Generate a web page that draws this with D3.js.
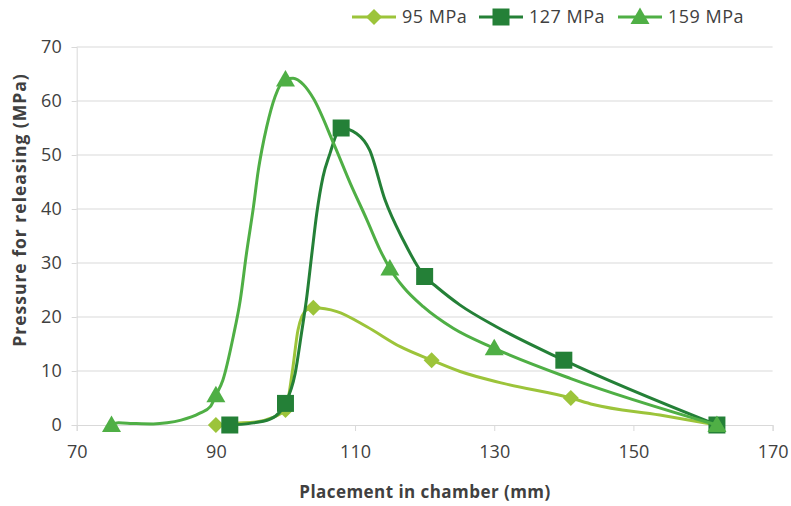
<!DOCTYPE html>
<html><head><meta charset="utf-8">
<script src="https://cdn.jsdelivr.net/npm/d3@7"></script>
<style>
html,body{margin:0;padding:0;background:#fff;}
svg{display:block;}
text{font-family:"Open Sans",sans-serif;fill:#404040;}
</style></head>
<body>
<svg id="chart" width="791" height="506"></svg>
<script>
// ---- data ----
const xTicks = [70, 90, 110, 130, 150, 170];
const yTicks = [0, 10, 20, 30, 40, 50, 60, 70];
const seriesNames = ["95 MPa", "127 MPa", "159 MPa"];

const line95X = [90, 92, 96, 98, 100, 101, 101.8, 103, 104, 107.4, 111.7, 116.5, 121, 125.1, 131.3, 141, 144.2, 153.8, 162];
const line95Y = [0, 0.3, 0.6, 1.3, 2.8, 10, 17.6, 21.3, 21.7, 21, 18.2, 14.5, 12, 9.9, 7.7, 5, 3.8, 1.85, 0];
const mark95X = [90, 100, 104, 121, 141, 162];
const mark95Y = [0, 2.8, 21.7, 12, 5, 0];

const line127X = [92, 94.9, 97.8, 99.2, 100, 101.4, 102.3, 103, 103.8, 104.5, 105.4, 106.4, 107.4, 108, 110.2, 112.1, 114.3, 116.9, 120, 121.7, 125.1, 130.3, 140, 162];
const line127Y = [0, 0.3, 1.1, 2.4, 4, 9.6, 17, 23.1, 31.8, 39.2, 46, 50.3, 54, 55, 54, 50.9, 41.7, 34.3, 27.5, 25.6, 22.2, 18.2, 12, 0];
const mark127X = [92, 100, 108, 120, 140, 162];
const mark127Y = [0, 4, 55, 27.5, 12, 0];

const line159X = [75, 76, 78, 81, 83, 85, 87.7, 89.2, 90, 91, 92.5, 93.5, 94.4, 95.4, 96.1, 96.6, 97.3, 98.5, 100, 101.1, 102.6, 104, 106.9, 109.3, 111.7, 113.6, 115, 116.9, 119.8, 124.1, 130, 141, 162];
const line159Y = [0, 0.4, 0.3, 0.2, 0.4, 0.9, 2.2, 3.4, 5.5, 8.3, 16.4, 23.1, 31.8, 40.4, 47.2, 50.9, 55.2, 60.8, 64, 64.2, 63, 60.5, 52.2, 44.8, 38, 32.4, 29, 25.6, 21.9, 17.9, 14.2, 8.6, 0];
const mark159X = [75, 90, 100, 115, 130, 162];
const mark159Y = [0, 5.5, 64, 29, 14.2, 0];

const colors = ["#9CC43A", "#248037", "#4FAF45"];
const shapes = ["diamond", "square", "triangle"];

// ---- layout ----
const svg = d3.select("#chart");
const x = d3.scaleLinear().domain([70, 170]).range([76.7, 772.6]);
const y = d3.scaleLinear().domain([0, 70]).range([425, 47]);

// gridlines
svg.append("g").selectAll("line").data(yTicks.filter(d => d > 0)).join("line")
  .attr("x1", x(70)).attr("x2", x(170))
  .attr("y1", d => y(d)).attr("y2", d => y(d))
  .attr("stroke", "#D9D9D9").attr("stroke-width", 1);

// y axis
const yAxis = svg.append("g").attr("transform", `translate(${x(70)},0)`)
  .call(d3.axisLeft(y).tickValues(yTicks).tickSize(5).tickPadding(10).tickFormat(d3.format("d")));
yAxis.select(".domain").attr("stroke", "#D9D9D9");
yAxis.selectAll(".tick line").attr("stroke", "#D9D9D9");
yAxis.selectAll(".tick text").attr("font-size", 18).attr("font-family", "Open Sans").attr("fill", "#404040");

// x axis
const xAxis = svg.append("g").attr("transform", `translate(0,${y(0)})`)
  .call(d3.axisBottom(x).tickValues(xTicks).tickSize(6).tickPadding(14).tickFormat(d3.format("d")));
xAxis.select(".domain").attr("stroke", "#D9D9D9");
xAxis.selectAll(".tick line").attr("stroke", "#D9D9D9");
xAxis.selectAll(".tick text").attr("font-size", 18).attr("font-family", "Open Sans").attr("fill", "#404040");

// axis titles
svg.append("text").attr("x", 425).attr("y", 498).attr("text-anchor", "middle")
  .attr("font-size", 17).attr("font-weight", "bold").attr("fill", "#262626")
  .attr("letter-spacing", 0.45)
  .text("Placement in chamber (mm)");
svg.append("text").attr("transform", "translate(26,210) rotate(-90)").attr("text-anchor", "middle")
  .attr("font-size", 17.5).attr("font-weight", "bold").attr("fill", "#262626")
  .attr("letter-spacing", 1.0)
  .text("Pressure for releasing (MPa)");

// marker shapes
function markerPath(shape) {
  if (shape === "diamond") return "M0,-8L8,0L0,8L-8,0Z";
  if (shape === "square") return "M-8.5,-8.5H8.5V8.5H-8.5Z";
  return "M0,-9.5L9.5,7H-9.5Z";
}

const lineGen = d3.line().x(d => x(d[0])).y(d => y(d[1])).curve(d3.curveMonotoneX);

const lineData = [
  d3.zip(line95X, line95Y), d3.zip(line127X, line127Y), d3.zip(line159X, line159Y)
];
const markData = [
  d3.zip(mark95X, mark95Y), d3.zip(mark127X, mark127Y), d3.zip(mark159X, mark159Y)
];

lineData.forEach((ld, i) => {
  const g = svg.append("g");
  g.append("path").datum(ld).attr("d", lineGen)
    .attr("fill", "none").attr("stroke", colors[i]).attr("stroke-width", 3)
    .attr("stroke-linejoin", "round").attr("stroke-linecap", "round");
  g.selectAll("path.m").data(markData[i]).join("path").attr("class", "m")
    .attr("transform", d => `translate(${x(d[0])},${y(d[1])})`)
    .attr("d", markerPath(shapes[i])).attr("fill", colors[i]);
});

// legend
const legX = [352, 479, 618];
const leg = svg.append("g");
seriesNames.forEach((name, i) => {
  const g = leg.append("g").attr("transform", `translate(${legX[i]},17)`);
  g.append("line").attr("x1", 0).attr("x2", 44).attr("y1", 0).attr("y2", 0)
    .attr("stroke", colors[i]).attr("stroke-width", 3);
  g.append("path").attr("transform", "translate(22,0)").attr("d", markerPath(shapes[i])).attr("fill", colors[i]);
  g.append("text").attr("x", 50).attr("y", 0).attr("dy", "0.35em")
    .attr("font-size", 18).attr("letter-spacing", 0.5).attr("fill", "#404040").text(name);
});
</script>
</body></html>
